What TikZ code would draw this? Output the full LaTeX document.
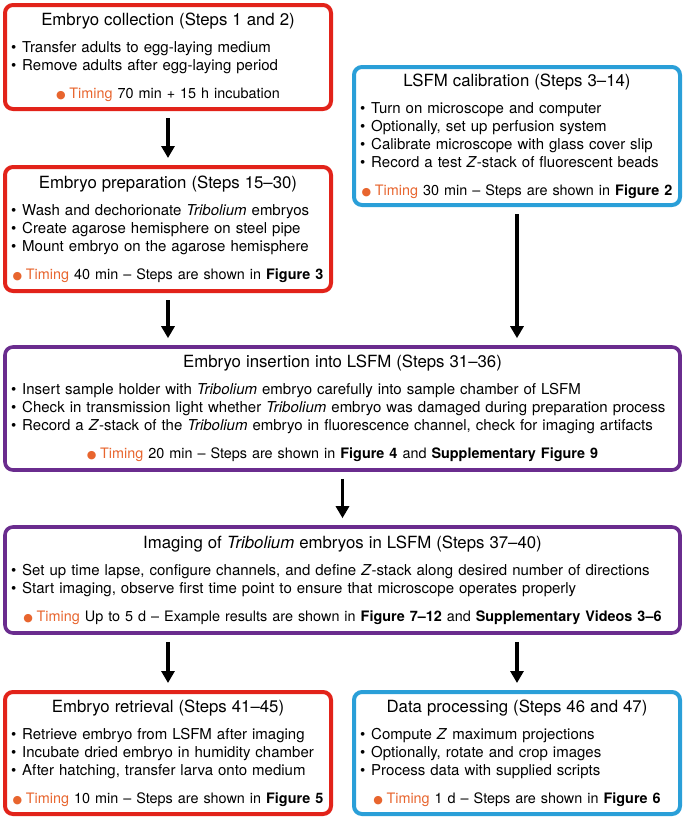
\documentclass[tikz,border=0pt]{standalone}
\usepackage{fontspec}
\setmainfont{TeX Gyre Heros}
\newfontfamily\dotfont{DejaVu Sans}
\usetikzlibrary{arrows.meta,positioning,calc}
\definecolor{boxred}{HTML}{E2231A}
\definecolor{boxblue}{HTML}{2A9FD8}
\definecolor{boxpurple}{HTML}{6A2C8E}
\definecolor{timingorange}{HTML}{E8652E}
\newcommand{\flowtitle}[1]{{\centering\fontsize{16.8}{19}\selectfont #1\par}\vspace{9pt}}
\newcommand{\bitem}{\textbullet\hspace{0.4em}}
\newcommand{\timingline}[1]{\vspace{10pt}{\centering\fontsize{14.4}{18}\selectfont\mbox{{\dotfont\fontsize{11}{11}\selectfont\color{timingorange}●}\hspace{0.25em}{\color{timingorange}Timing} #1}\par}}
\tikzset{
  flowbox/.style={draw, line width=4pt, rounded corners=8pt, fill=white, align=left, inner sep=6pt, font=\fontsize{15}{18}\selectfont},
  smallbox/.style={flowbox, text width=314pt, minimum width=326pt},
  widebox/.style={flowbox, text width=663pt, minimum width=675pt},
  flowarrow/.style={-{Triangle[width=13pt,length=12pt]}, line width=3.2pt, shorten <=7pt, shorten >=7pt}
}

\begin{document}
\begin{tikzpicture}[x=1pt, y=1pt]
  \useasboundingbox (0,0) rectangle (685,-820);
  \node[smallbox, draw=boxred, minimum height=104pt] (collect) at (168,-57) {\flowtitle{Embryo collection (Steps 1 and 2)}
    \bitem Transfer adults to egg-laying medium\par
    \bitem Remove adults after egg-laying period\par
    \timingline{70 min + 15 h incubation}};
  \node[smallbox, draw=boxblue, minimum height=138pt] (calib) at (517,-136) {\flowtitle{LSFM calibration (Steps 3--14)}
    \bitem Turn on microscope and computer\par
    \bitem Optionally, set up perfusion system\par
    \bitem Calibrate microscope with glass cover slip\par
    \bitem Record a test \textit{Z}-stack of fluorescent beads\par
    \timingline{30 min -- Steps are shown in \textbf{Figure 2}}};
  \node[smallbox, draw=boxred, minimum height=124pt] (prep) at (168,-229) {\flowtitle{Embryo preparation (Steps 15--30)}
    \bitem Wash and dechorionate \textit{Tribolium} embryos\par
    \bitem Create agarose hemisphere on steel pipe\par
    \bitem Mount embryo on the agarose hemisphere\par
    \timingline{40 min -- Steps are shown in \textbf{Figure 3}}};
  \node[widebox, draw=boxpurple, line width=3.6pt, minimum height=123pt] (insert) at (342.5,-408.5) {\flowtitle{Embryo insertion into LSFM (Steps 31--36)}
    \bitem Insert sample holder with \textit{Tribolium} embryo carefully into sample chamber of LSFM\par
    \bitem Check in transmission light whether \textit{Tribolium} embryo was damaged during preparation process\par
    \bitem Record a \textit{Z}-stack of the \textit{Tribolium} embryo in fluorescence channel, check for imaging artifacts\par
    \timingline{20 min -- Steps are shown in \textbf{Figure 4} and \textbf{Supplementary Figure 9}}};
  \node[widebox, draw=boxpurple, line width=3.6pt, minimum height=106pt] (imaging) at (342.5,-580) {\flowtitle{Imaging of \textit{Tribolium} embryos in LSFM (Steps 37--40)}
    \bitem Set up time lapse, configure channels, and define \textit{Z}-stack along desired number of directions\par
    \bitem Start imaging, observe first time point to ensure that microscope operates properly\par
    \timingline{Up to 5 d -- Example results are shown in \textbf{Figure 7--12} and \textbf{Supplementary Videos 3--6}}};
  \node[smallbox, draw=boxred, minimum height=122pt] (retrieval) at (168,-753) {\flowtitle{Embryo retrieval (Steps 41--45)}
    \bitem Retrieve embryo from LSFM after imaging\par
    \bitem Incubate dried embryo in humidity chamber\par
    \bitem After hatching, transfer larva onto medium\par
    \timingline{10 min -- Steps are shown in \textbf{Figure 5}}};
  \node[smallbox, draw=boxblue, minimum height=122pt] (process) at (517,-753) {\flowtitle{Data processing (Steps 46 and 47)}
    \bitem Compute \textit{Z} maximum projections\par
    \bitem Optionally, rotate and crop images\par
    \bitem Process data with supplied scripts\par
    \timingline{1 d -- Steps are shown in \textbf{Figure 6}}};
  \draw[flowarrow] (collect.south) -- (prep.north);
  \draw[flowarrow] (prep.south) -- (prep.south |- insert.north);
  \draw[flowarrow] (calib.south) -- (calib.south |- insert.north);
  \draw[flowarrow] (insert.south) -- (imaging.north);
  \draw[flowarrow] (imaging.south -| retrieval.north) -- (retrieval.north);
  \draw[flowarrow] (imaging.south -| process.north) -- (process.north);
\end{tikzpicture}
\end{document}
